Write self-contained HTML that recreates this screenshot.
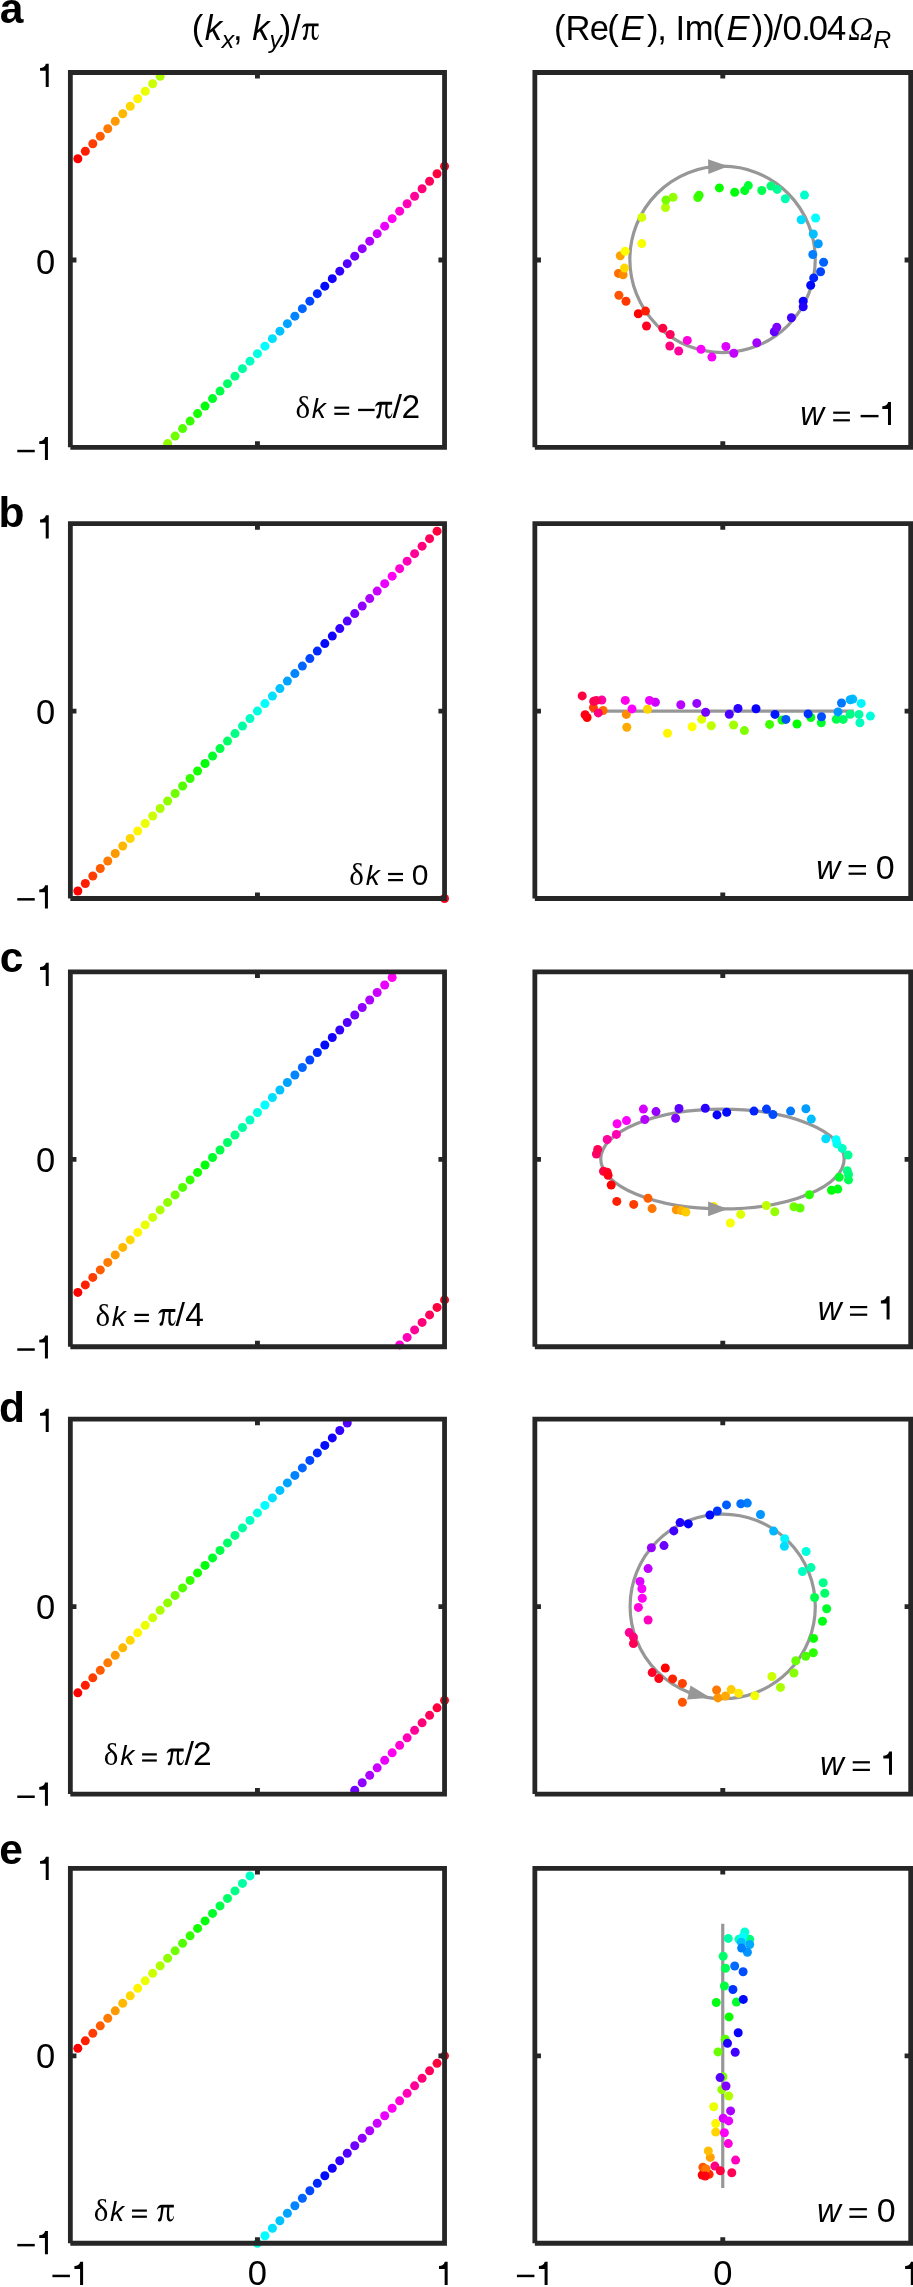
<!DOCTYPE html><html><head><meta charset="utf-8"><style>html,body{margin:0;padding:0;background:#fff;width:913px;height:2287px;overflow:hidden}svg{display:block;will-change:transform}text{fill:#000}</style></head><body>
<svg width="913" height="2287" viewBox="0 0 913 2287">
<text x="191.72" y="39.70" style="font-family:&quot;Liberation Sans&quot;,sans-serif;font-style:normal;font-weight:normal;font-size:34.6px">(</text>
<text x="204.69" y="39.70" style="font-family:&quot;Liberation Sans&quot;,sans-serif;font-style:italic;font-weight:normal;font-size:34.6px">k</text>
<text x="221.68" y="47.60" style="font-family:&quot;Liberation Sans&quot;,sans-serif;font-style:italic;font-weight:normal;font-size:24.8px">x</text>
<text x="232.89" y="39.70" style="font-family:&quot;Liberation Sans&quot;,sans-serif;font-style:normal;font-weight:normal;font-size:34.6px">,</text>
<text x="252.34" y="39.70" style="font-family:&quot;Liberation Sans&quot;,sans-serif;font-style:italic;font-weight:normal;font-size:34.6px">k</text>
<text x="269.38" y="47.60" style="font-family:&quot;Liberation Sans&quot;,sans-serif;font-style:italic;font-weight:normal;font-size:24.8px">y</text>
<text x="279.86" y="39.70" style="font-family:&quot;Liberation Sans&quot;,sans-serif;font-style:normal;font-weight:normal;font-size:34.6px">)</text>
<text x="291.04" y="39.70" style="font-family:&quot;Liberation Sans&quot;,sans-serif;font-style:normal;font-weight:normal;font-size:34.6px">/</text>
<path d="M318.60 23.40 L318.60 26.30 L314.20 26.30 C313.90 29.70 313.80 33.20 314.10 35.70 C314.40 37.50 315.40 38.10 316.30 37.90 C317.40 37.70 318.00 36.20 318.40 34.50 L318.80 34.70 C318.60 37.70 317.30 40.00 315.10 40.00 C312.80 40.00 311.80 37.90 311.70 35.20 C311.60 32.20 311.80 29.20 312.10 26.30 L308.50 26.30 C308.00 30.70 307.40 34.70 306.70 37.50 C306.50 38.90 305.80 40.00 304.60 40.00 C303.30 40.00 302.80 39.10 302.90 38.40 C303.10 37.40 304.30 36.50 305.00 35.20 C305.60 32.20 305.80 29.20 306.10 26.30 C304.30 26.50 302.80 27.20 302.10 28.40 L301.80 27.90 C302.60 25.50 304.30 23.40 306.80 23.40 Z" fill="#000"/>
<text x="554.02" y="39.70" style="font-family:&quot;Liberation Sans&quot;,sans-serif;font-style:normal;font-weight:normal;font-size:34.6px">(</text>
<text x="565.49" y="39.70" style="font-family:&quot;Liberation Sans&quot;,sans-serif;font-style:normal;font-weight:normal;font-size:34.6px">R</text>
<text x="589.66" y="39.70" style="font-family:&quot;Liberation Sans&quot;,sans-serif;font-style:normal;font-weight:normal;font-size:34.6px">e</text>
<text x="607.32" y="39.70" style="font-family:&quot;Liberation Sans&quot;,sans-serif;font-style:normal;font-weight:normal;font-size:34.6px">(</text>
<text x="620.57" y="39.70" style="font-family:&quot;Liberation Sans&quot;,sans-serif;font-style:italic;font-weight:normal;font-size:34.6px">E</text>
<text x="647.06" y="39.70" style="font-family:&quot;Liberation Sans&quot;,sans-serif;font-style:normal;font-weight:normal;font-size:34.6px">)</text>
<text x="657.24" y="39.70" style="font-family:&quot;Liberation Sans&quot;,sans-serif;font-style:normal;font-weight:normal;font-size:34.6px">,</text>
<text x="675.59" y="39.70" style="font-family:&quot;Liberation Sans&quot;,sans-serif;font-style:normal;font-weight:normal;font-size:34.6px">I</text>
<text x="684.68" y="39.70" style="font-family:&quot;Liberation Sans&quot;,sans-serif;font-style:normal;font-weight:normal;font-size:34.6px">m</text>
<text x="712.42" y="39.70" style="font-family:&quot;Liberation Sans&quot;,sans-serif;font-style:normal;font-weight:normal;font-size:34.6px">(</text>
<text x="726.62" y="39.70" style="font-family:&quot;Liberation Sans&quot;,sans-serif;font-style:italic;font-weight:normal;font-size:34.6px">E</text>
<text x="751.86" y="39.70" style="font-family:&quot;Liberation Sans&quot;,sans-serif;font-style:normal;font-weight:normal;font-size:34.6px">)</text>
<text x="763.31" y="39.70" style="font-family:&quot;Liberation Sans&quot;,sans-serif;font-style:normal;font-weight:normal;font-size:34.6px">)</text>
<text x="772.99" y="39.70" style="font-family:&quot;Liberation Sans&quot;,sans-serif;font-style:normal;font-weight:normal;font-size:34.6px">/</text>
<text x="782.43" y="39.70" style="font-family:&quot;Liberation Sans&quot;,sans-serif;font-style:normal;font-weight:normal;font-size:34.6px">0</text>
<text x="801.14" y="39.70" style="font-family:&quot;Liberation Sans&quot;,sans-serif;font-style:normal;font-weight:normal;font-size:34.6px">.</text>
<text x="808.78" y="39.70" style="font-family:&quot;Liberation Sans&quot;,sans-serif;font-style:normal;font-weight:normal;font-size:34.6px">0</text>
<text x="827.04" y="39.70" style="font-family:&quot;Liberation Sans&quot;,sans-serif;font-style:normal;font-weight:normal;font-size:34.6px">4</text>
<text x="848.14" y="39.70" style="font-family:&quot;Liberation Serif&quot;,serif;font-style:italic;font-weight:normal;font-size:34.6px">Ω</text>
<text x="873.15" y="47.60" style="font-family:&quot;Liberation Sans&quot;,sans-serif;font-style:italic;font-weight:normal;font-size:24.8px">R</text>
<text x="-0.25" y="22.90" style="font-family:&quot;Liberation Sans&quot;,sans-serif;font-style:normal;font-weight:bold;font-size:42.5px">a</text>
<text x="-1.50" y="526.90" style="font-family:&quot;Liberation Sans&quot;,sans-serif;font-style:normal;font-weight:bold;font-size:42.5px">b</text>
<text x="-0.16" y="971.80" style="font-family:&quot;Liberation Sans&quot;,sans-serif;font-style:normal;font-weight:bold;font-size:42.5px">c</text>
<text x="-1.04" y="1422.30" style="font-family:&quot;Liberation Sans&quot;,sans-serif;font-style:normal;font-weight:bold;font-size:42.5px">d</text>
<text x="-0.66" y="1863.80" style="font-family:&quot;Liberation Sans&quot;,sans-serif;font-style:normal;font-weight:bold;font-size:42.5px">e</text>
<path d="M48.73 86.90 L45.72 86.90 L45.72 70.80 L40.05 70.80 L40.05 68.02 C42.95 67.79 45.10 66.90 45.92 63.70 L48.73 63.70 Z" fill="#000"/>
<text x="36.11" y="273.80" style="font-family:&quot;Liberation Sans&quot;,sans-serif;font-style:normal;font-weight:normal;font-size:34.5px">0</text>
<rect x="17.27" y="449.80" width="17.49" height="2.48" fill="#000"/><path d="M47.93 460.10 L44.92 460.10 L44.92 444.00 L39.25 444.00 L39.25 441.22 C42.15 440.99 44.30 440.10 45.12 436.90 L47.93 436.90 Z" fill="#000"/>
<path d="M48.73 538.50 L45.72 538.50 L45.72 522.40 L40.05 522.40 L40.05 519.62 C42.95 519.39 45.10 518.50 45.92 515.30 L48.73 515.30 Z" fill="#000"/>
<text x="36.11" y="723.60" style="font-family:&quot;Liberation Sans&quot;,sans-serif;font-style:normal;font-weight:normal;font-size:34.5px">0</text>
<rect x="17.27" y="898.10" width="17.49" height="2.48" fill="#000"/><path d="M47.93 908.40 L44.92 908.40 L44.92 892.30 L39.25 892.30 L39.25 889.52 C42.15 889.29 44.30 888.40 45.12 885.20 L47.93 885.20 Z" fill="#000"/>
<path d="M48.73 986.00 L45.72 986.00 L45.72 969.90 L40.05 969.90 L40.05 967.12 C42.95 966.89 45.10 966.00 45.92 962.80 L48.73 962.80 Z" fill="#000"/>
<text x="36.11" y="1172.20" style="font-family:&quot;Liberation Sans&quot;,sans-serif;font-style:normal;font-weight:normal;font-size:34.5px">0</text>
<rect x="17.27" y="1348.30" width="17.49" height="2.48" fill="#000"/><path d="M47.93 1358.60 L44.92 1358.60 L44.92 1342.50 L39.25 1342.50 L39.25 1339.72 C42.15 1339.49 44.30 1338.60 45.12 1335.40 L47.93 1335.40 Z" fill="#000"/>
<path d="M48.73 1431.90 L45.72 1431.90 L45.72 1415.80 L40.05 1415.80 L40.05 1413.02 C42.95 1412.79 45.10 1411.90 45.92 1408.70 L48.73 1408.70 Z" fill="#000"/>
<text x="36.11" y="1618.90" style="font-family:&quot;Liberation Sans&quot;,sans-serif;font-style:normal;font-weight:normal;font-size:34.5px">0</text>
<rect x="17.27" y="1795.50" width="17.49" height="2.48" fill="#000"/><path d="M47.93 1805.80 L44.92 1805.80 L44.92 1789.70 L39.25 1789.70 L39.25 1786.92 C42.15 1786.69 44.30 1785.80 45.12 1782.60 L47.93 1782.60 Z" fill="#000"/>
<path d="M48.73 1879.90 L45.72 1879.90 L45.72 1863.80 L40.05 1863.80 L40.05 1861.02 C42.95 1860.79 45.10 1859.90 45.92 1856.70 L48.73 1856.70 Z" fill="#000"/>
<text x="36.11" y="2067.60" style="font-family:&quot;Liberation Sans&quot;,sans-serif;font-style:normal;font-weight:normal;font-size:34.5px">0</text>
<rect x="17.27" y="2243.90" width="17.49" height="2.48" fill="#000"/><path d="M47.93 2254.20 L44.92 2254.20 L44.92 2238.10 L39.25 2238.10 L39.25 2235.32 C42.15 2235.09 44.30 2234.20 45.12 2231.00 L47.93 2231.00 Z" fill="#000"/>
<rect x="52.43" y="2274.70" width="17.49" height="2.48" fill="#000"/><path d="M83.09 2285.00 L80.08 2285.00 L80.08 2268.90 L74.41 2268.90 L74.41 2266.12 C77.31 2265.89 79.46 2265.00 80.28 2261.80 L83.09 2261.80 Z" fill="#000"/>
<text x="247.86" y="2285.00" style="font-family:&quot;Liberation Sans&quot;,sans-serif;font-style:normal;font-weight:normal;font-size:34.5px">0</text>
<path d="M447.65 2285.00 L444.65 2285.00 L444.65 2268.90 L438.97 2268.90 L438.97 2266.12 C441.88 2265.89 444.02 2265.00 444.85 2261.80 L447.65 2261.80 Z" fill="#000"/>
<rect x="516.93" y="2274.70" width="17.49" height="2.48" fill="#000"/><path d="M547.59 2285.00 L544.59 2285.00 L544.59 2268.90 L538.91 2268.90 L538.91 2266.12 C541.81 2265.89 543.96 2265.00 544.78 2261.80 L547.59 2261.80 Z" fill="#000"/>
<text x="713.18" y="2285.00" style="font-family:&quot;Liberation Sans&quot;,sans-serif;font-style:normal;font-weight:normal;font-size:34.5px">0</text>
<path d="M913.80 2285.00 L910.80 2285.00 L910.80 2268.90 L905.12 2268.90 L905.12 2266.12 C908.03 2265.89 910.17 2265.00 911.00 2261.80 L913.80 2261.80 Z" fill="#000"/>
<circle cx="77.83" cy="158.72" r="4.5" fill="#ff0000"/>
<circle cx="85.32" cy="151.22" r="4.5" fill="#ff1f00"/>
<circle cx="92.80" cy="143.72" r="4.5" fill="#ff3d00"/>
<circle cx="100.29" cy="136.22" r="4.5" fill="#ff5c00"/>
<circle cx="107.77" cy="128.73" r="4.5" fill="#ff7a00"/>
<circle cx="115.25" cy="121.23" r="4.5" fill="#ff9900"/>
<circle cx="122.74" cy="113.73" r="4.5" fill="#ffb800"/>
<circle cx="130.22" cy="106.24" r="4.5" fill="#ffd600"/>
<circle cx="137.71" cy="98.74" r="4.5" fill="#fff500"/>
<circle cx="145.19" cy="91.24" r="4.5" fill="#ebff00"/>
<circle cx="152.67" cy="83.75" r="4.5" fill="#ccff00"/>
<circle cx="160.16" cy="76.25" r="4.5" fill="#adff00"/>
<circle cx="167.64" cy="443.60" r="4.5" fill="#8fff00"/>
<circle cx="175.13" cy="436.10" r="4.5" fill="#70ff00"/>
<circle cx="182.61" cy="428.61" r="4.5" fill="#52ff00"/>
<circle cx="190.09" cy="421.11" r="4.5" fill="#33ff00"/>
<circle cx="197.58" cy="413.61" r="4.5" fill="#14ff00"/>
<circle cx="205.06" cy="406.12" r="4.5" fill="#00ff0a"/>
<circle cx="212.55" cy="398.62" r="4.5" fill="#00ff29"/>
<circle cx="220.03" cy="391.12" r="4.5" fill="#00ff47"/>
<circle cx="227.51" cy="383.63" r="4.5" fill="#00ff66"/>
<circle cx="235.00" cy="376.13" r="4.5" fill="#00ff85"/>
<circle cx="242.48" cy="368.63" r="4.5" fill="#00ffa3"/>
<circle cx="249.97" cy="361.13" r="4.5" fill="#00ffc2"/>
<circle cx="257.45" cy="353.64" r="4.5" fill="#00ffe0"/>
<circle cx="264.93" cy="346.14" r="4.5" fill="#00ffff"/>
<circle cx="272.42" cy="338.64" r="4.5" fill="#00e0ff"/>
<circle cx="279.90" cy="331.15" r="4.5" fill="#00c2ff"/>
<circle cx="287.39" cy="323.65" r="4.5" fill="#00a3ff"/>
<circle cx="294.87" cy="316.15" r="4.5" fill="#0085ff"/>
<circle cx="302.35" cy="308.66" r="4.5" fill="#0066ff"/>
<circle cx="309.84" cy="301.16" r="4.5" fill="#0047ff"/>
<circle cx="317.32" cy="293.66" r="4.5" fill="#0029ff"/>
<circle cx="324.81" cy="286.16" r="4.5" fill="#000aff"/>
<circle cx="332.29" cy="278.67" r="4.5" fill="#1400ff"/>
<circle cx="339.77" cy="271.17" r="4.5" fill="#3300ff"/>
<circle cx="347.26" cy="263.67" r="4.5" fill="#5200ff"/>
<circle cx="354.74" cy="256.18" r="4.5" fill="#7000ff"/>
<circle cx="362.23" cy="248.68" r="4.5" fill="#8f00ff"/>
<circle cx="369.71" cy="241.18" r="4.5" fill="#ad00ff"/>
<circle cx="377.19" cy="233.69" r="4.5" fill="#cc00ff"/>
<circle cx="384.68" cy="226.19" r="4.5" fill="#eb00ff"/>
<circle cx="392.16" cy="218.69" r="4.5" fill="#ff00f5"/>
<circle cx="399.65" cy="211.19" r="4.5" fill="#ff00d6"/>
<circle cx="407.13" cy="203.70" r="4.5" fill="#ff00b8"/>
<circle cx="414.61" cy="196.20" r="4.5" fill="#ff0099"/>
<circle cx="422.10" cy="188.70" r="4.5" fill="#ff007a"/>
<circle cx="429.58" cy="181.21" r="4.5" fill="#ff005c"/>
<circle cx="437.07" cy="173.71" r="4.5" fill="#ff003d"/>
<circle cx="444.55" cy="166.21" r="4.5" fill="#ff001f"/>
<circle cx="77.83" cy="891.00" r="4.5" fill="#ff0000"/>
<circle cx="85.32" cy="883.51" r="4.5" fill="#ff1f00"/>
<circle cx="92.80" cy="876.01" r="4.5" fill="#ff3d00"/>
<circle cx="100.29" cy="868.51" r="4.5" fill="#ff5c00"/>
<circle cx="107.77" cy="861.01" r="4.5" fill="#ff7a00"/>
<circle cx="115.25" cy="853.52" r="4.5" fill="#ff9900"/>
<circle cx="122.74" cy="846.02" r="4.5" fill="#ffb800"/>
<circle cx="130.22" cy="838.52" r="4.5" fill="#ffd600"/>
<circle cx="137.71" cy="831.03" r="4.5" fill="#fff500"/>
<circle cx="145.19" cy="823.53" r="4.5" fill="#ebff00"/>
<circle cx="152.67" cy="816.03" r="4.5" fill="#ccff00"/>
<circle cx="160.16" cy="808.54" r="4.5" fill="#adff00"/>
<circle cx="167.64" cy="801.04" r="4.5" fill="#8fff00"/>
<circle cx="175.13" cy="793.54" r="4.5" fill="#70ff00"/>
<circle cx="182.61" cy="786.04" r="4.5" fill="#52ff00"/>
<circle cx="190.09" cy="778.55" r="4.5" fill="#33ff00"/>
<circle cx="197.58" cy="771.05" r="4.5" fill="#14ff00"/>
<circle cx="205.06" cy="763.55" r="4.5" fill="#00ff0a"/>
<circle cx="212.55" cy="756.06" r="4.5" fill="#00ff29"/>
<circle cx="220.03" cy="748.56" r="4.5" fill="#00ff47"/>
<circle cx="227.51" cy="741.06" r="4.5" fill="#00ff66"/>
<circle cx="235.00" cy="733.57" r="4.5" fill="#00ff85"/>
<circle cx="242.48" cy="726.07" r="4.5" fill="#00ffa3"/>
<circle cx="249.97" cy="718.57" r="4.5" fill="#00ffc2"/>
<circle cx="257.45" cy="711.08" r="4.5" fill="#00ffe0"/>
<circle cx="264.93" cy="703.58" r="4.5" fill="#00ffff"/>
<circle cx="272.42" cy="696.08" r="4.5" fill="#00e0ff"/>
<circle cx="279.90" cy="688.58" r="4.5" fill="#00c2ff"/>
<circle cx="287.39" cy="681.09" r="4.5" fill="#00a3ff"/>
<circle cx="294.87" cy="673.59" r="4.5" fill="#0085ff"/>
<circle cx="302.35" cy="666.09" r="4.5" fill="#0066ff"/>
<circle cx="309.84" cy="658.60" r="4.5" fill="#0047ff"/>
<circle cx="317.32" cy="651.10" r="4.5" fill="#0029ff"/>
<circle cx="324.81" cy="643.60" r="4.5" fill="#000aff"/>
<circle cx="332.29" cy="636.11" r="4.5" fill="#1400ff"/>
<circle cx="339.77" cy="628.61" r="4.5" fill="#3300ff"/>
<circle cx="347.26" cy="621.11" r="4.5" fill="#5200ff"/>
<circle cx="354.74" cy="613.61" r="4.5" fill="#7000ff"/>
<circle cx="362.23" cy="606.12" r="4.5" fill="#8f00ff"/>
<circle cx="369.71" cy="598.62" r="4.5" fill="#ad00ff"/>
<circle cx="377.19" cy="591.12" r="4.5" fill="#cc00ff"/>
<circle cx="384.68" cy="583.63" r="4.5" fill="#eb00ff"/>
<circle cx="392.16" cy="576.13" r="4.5" fill="#ff00f5"/>
<circle cx="399.65" cy="568.63" r="4.5" fill="#ff00d6"/>
<circle cx="407.13" cy="561.13" r="4.5" fill="#ff00b8"/>
<circle cx="414.61" cy="553.64" r="4.5" fill="#ff0099"/>
<circle cx="422.10" cy="546.14" r="4.5" fill="#ff007a"/>
<circle cx="429.58" cy="538.64" r="4.5" fill="#ff005c"/>
<circle cx="437.07" cy="531.15" r="4.5" fill="#ff003d"/>
<circle cx="444.55" cy="898.50" r="4.5" fill="#ff001f"/>
<circle cx="77.83" cy="1292.40" r="4.5" fill="#ff0000"/>
<circle cx="85.32" cy="1284.90" r="4.5" fill="#ff1f00"/>
<circle cx="92.80" cy="1277.40" r="4.5" fill="#ff3d00"/>
<circle cx="100.29" cy="1269.91" r="4.5" fill="#ff5c00"/>
<circle cx="107.77" cy="1262.41" r="4.5" fill="#ff7a00"/>
<circle cx="115.25" cy="1254.91" r="4.5" fill="#ff9900"/>
<circle cx="122.74" cy="1247.41" r="4.5" fill="#ffb800"/>
<circle cx="130.22" cy="1239.92" r="4.5" fill="#ffd600"/>
<circle cx="137.71" cy="1232.42" r="4.5" fill="#fff500"/>
<circle cx="145.19" cy="1224.92" r="4.5" fill="#ebff00"/>
<circle cx="152.67" cy="1217.43" r="4.5" fill="#ccff00"/>
<circle cx="160.16" cy="1209.93" r="4.5" fill="#adff00"/>
<circle cx="167.64" cy="1202.43" r="4.5" fill="#8fff00"/>
<circle cx="175.13" cy="1194.94" r="4.5" fill="#70ff00"/>
<circle cx="182.61" cy="1187.44" r="4.5" fill="#52ff00"/>
<circle cx="190.09" cy="1179.94" r="4.5" fill="#33ff00"/>
<circle cx="197.58" cy="1172.44" r="4.5" fill="#14ff00"/>
<circle cx="205.06" cy="1164.95" r="4.5" fill="#00ff0a"/>
<circle cx="212.55" cy="1157.45" r="4.5" fill="#00ff29"/>
<circle cx="220.03" cy="1149.95" r="4.5" fill="#00ff47"/>
<circle cx="227.51" cy="1142.46" r="4.5" fill="#00ff66"/>
<circle cx="235.00" cy="1134.96" r="4.5" fill="#00ff85"/>
<circle cx="242.48" cy="1127.46" r="4.5" fill="#00ffa3"/>
<circle cx="249.97" cy="1119.97" r="4.5" fill="#00ffc2"/>
<circle cx="257.45" cy="1112.47" r="4.5" fill="#00ffe0"/>
<circle cx="264.93" cy="1104.97" r="4.5" fill="#00ffff"/>
<circle cx="272.42" cy="1097.47" r="4.5" fill="#00e0ff"/>
<circle cx="279.90" cy="1089.98" r="4.5" fill="#00c2ff"/>
<circle cx="287.39" cy="1082.48" r="4.5" fill="#00a3ff"/>
<circle cx="294.87" cy="1074.98" r="4.5" fill="#0085ff"/>
<circle cx="302.35" cy="1067.49" r="4.5" fill="#0066ff"/>
<circle cx="309.84" cy="1059.99" r="4.5" fill="#0047ff"/>
<circle cx="317.32" cy="1052.49" r="4.5" fill="#0029ff"/>
<circle cx="324.81" cy="1045.00" r="4.5" fill="#000aff"/>
<circle cx="332.29" cy="1037.50" r="4.5" fill="#1400ff"/>
<circle cx="339.77" cy="1030.00" r="4.5" fill="#3300ff"/>
<circle cx="347.26" cy="1022.50" r="4.5" fill="#5200ff"/>
<circle cx="354.74" cy="1015.01" r="4.5" fill="#7000ff"/>
<circle cx="362.23" cy="1007.51" r="4.5" fill="#8f00ff"/>
<circle cx="369.71" cy="1000.01" r="4.5" fill="#ad00ff"/>
<circle cx="377.19" cy="992.52" r="4.5" fill="#cc00ff"/>
<circle cx="384.68" cy="985.02" r="4.5" fill="#eb00ff"/>
<circle cx="392.16" cy="977.52" r="4.5" fill="#ff00f5"/>
<circle cx="399.65" cy="1344.88" r="4.5" fill="#ff00d6"/>
<circle cx="407.13" cy="1337.38" r="4.5" fill="#ff00b8"/>
<circle cx="414.61" cy="1329.88" r="4.5" fill="#ff0099"/>
<circle cx="422.10" cy="1322.38" r="4.5" fill="#ff007a"/>
<circle cx="429.58" cy="1314.89" r="4.5" fill="#ff005c"/>
<circle cx="437.07" cy="1307.39" r="4.5" fill="#ff003d"/>
<circle cx="444.55" cy="1299.89" r="4.5" fill="#ff001f"/>
<circle cx="77.83" cy="1692.84" r="4.5" fill="#ff0000"/>
<circle cx="85.32" cy="1685.34" r="4.5" fill="#ff1f00"/>
<circle cx="92.80" cy="1677.85" r="4.5" fill="#ff3d00"/>
<circle cx="100.29" cy="1670.35" r="4.5" fill="#ff5c00"/>
<circle cx="107.77" cy="1662.85" r="4.5" fill="#ff7a00"/>
<circle cx="115.25" cy="1655.36" r="4.5" fill="#ff9900"/>
<circle cx="122.74" cy="1647.86" r="4.5" fill="#ffb800"/>
<circle cx="130.22" cy="1640.36" r="4.5" fill="#ffd600"/>
<circle cx="137.71" cy="1632.86" r="4.5" fill="#fff500"/>
<circle cx="145.19" cy="1625.37" r="4.5" fill="#ebff00"/>
<circle cx="152.67" cy="1617.87" r="4.5" fill="#ccff00"/>
<circle cx="160.16" cy="1610.37" r="4.5" fill="#adff00"/>
<circle cx="167.64" cy="1602.88" r="4.5" fill="#8fff00"/>
<circle cx="175.13" cy="1595.38" r="4.5" fill="#70ff00"/>
<circle cx="182.61" cy="1587.88" r="4.5" fill="#52ff00"/>
<circle cx="190.09" cy="1580.39" r="4.5" fill="#33ff00"/>
<circle cx="197.58" cy="1572.89" r="4.5" fill="#14ff00"/>
<circle cx="205.06" cy="1565.39" r="4.5" fill="#00ff0a"/>
<circle cx="212.55" cy="1557.89" r="4.5" fill="#00ff29"/>
<circle cx="220.03" cy="1550.40" r="4.5" fill="#00ff47"/>
<circle cx="227.51" cy="1542.90" r="4.5" fill="#00ff66"/>
<circle cx="235.00" cy="1535.40" r="4.5" fill="#00ff85"/>
<circle cx="242.48" cy="1527.91" r="4.5" fill="#00ffa3"/>
<circle cx="249.97" cy="1520.41" r="4.5" fill="#00ffc2"/>
<circle cx="257.45" cy="1512.91" r="4.5" fill="#00ffe0"/>
<circle cx="264.93" cy="1505.42" r="4.5" fill="#00ffff"/>
<circle cx="272.42" cy="1497.92" r="4.5" fill="#00e0ff"/>
<circle cx="279.90" cy="1490.42" r="4.5" fill="#00c2ff"/>
<circle cx="287.39" cy="1482.92" r="4.5" fill="#00a3ff"/>
<circle cx="294.87" cy="1475.43" r="4.5" fill="#0085ff"/>
<circle cx="302.35" cy="1467.93" r="4.5" fill="#0066ff"/>
<circle cx="309.84" cy="1460.43" r="4.5" fill="#0047ff"/>
<circle cx="317.32" cy="1452.94" r="4.5" fill="#0029ff"/>
<circle cx="324.81" cy="1445.44" r="4.5" fill="#000aff"/>
<circle cx="332.29" cy="1437.94" r="4.5" fill="#1400ff"/>
<circle cx="339.77" cy="1430.45" r="4.5" fill="#3300ff"/>
<circle cx="347.26" cy="1422.95" r="4.5" fill="#5200ff"/>
<circle cx="354.74" cy="1790.30" r="4.5" fill="#7000ff"/>
<circle cx="362.23" cy="1782.80" r="4.5" fill="#8f00ff"/>
<circle cx="369.71" cy="1775.31" r="4.5" fill="#ad00ff"/>
<circle cx="377.19" cy="1767.81" r="4.5" fill="#cc00ff"/>
<circle cx="384.68" cy="1760.31" r="4.5" fill="#eb00ff"/>
<circle cx="392.16" cy="1752.82" r="4.5" fill="#ff00f5"/>
<circle cx="399.65" cy="1745.32" r="4.5" fill="#ff00d6"/>
<circle cx="407.13" cy="1737.82" r="4.5" fill="#ff00b8"/>
<circle cx="414.61" cy="1730.33" r="4.5" fill="#ff0099"/>
<circle cx="422.10" cy="1722.83" r="4.5" fill="#ff007a"/>
<circle cx="429.58" cy="1715.33" r="4.5" fill="#ff005c"/>
<circle cx="437.07" cy="1707.83" r="4.5" fill="#ff003d"/>
<circle cx="444.55" cy="1700.34" r="4.5" fill="#ff001f"/>
<circle cx="77.83" cy="2048.33" r="4.5" fill="#ff0000"/>
<circle cx="85.32" cy="2040.83" r="4.5" fill="#ff1f00"/>
<circle cx="92.80" cy="2033.33" r="4.5" fill="#ff3d00"/>
<circle cx="100.29" cy="2025.84" r="4.5" fill="#ff5c00"/>
<circle cx="107.77" cy="2018.34" r="4.5" fill="#ff7a00"/>
<circle cx="115.25" cy="2010.84" r="4.5" fill="#ff9900"/>
<circle cx="122.74" cy="2003.35" r="4.5" fill="#ffb800"/>
<circle cx="130.22" cy="1995.85" r="4.5" fill="#ffd600"/>
<circle cx="137.71" cy="1988.35" r="4.5" fill="#fff500"/>
<circle cx="145.19" cy="1980.86" r="4.5" fill="#ebff00"/>
<circle cx="152.67" cy="1973.36" r="4.5" fill="#ccff00"/>
<circle cx="160.16" cy="1965.86" r="4.5" fill="#adff00"/>
<circle cx="167.64" cy="1958.36" r="4.5" fill="#8fff00"/>
<circle cx="175.13" cy="1950.87" r="4.5" fill="#70ff00"/>
<circle cx="182.61" cy="1943.37" r="4.5" fill="#52ff00"/>
<circle cx="190.09" cy="1935.87" r="4.5" fill="#33ff00"/>
<circle cx="197.58" cy="1928.38" r="4.5" fill="#14ff00"/>
<circle cx="205.06" cy="1920.88" r="4.5" fill="#00ff0a"/>
<circle cx="212.55" cy="1913.38" r="4.5" fill="#00ff29"/>
<circle cx="220.03" cy="1905.88" r="4.5" fill="#00ff47"/>
<circle cx="227.51" cy="1898.39" r="4.5" fill="#00ff66"/>
<circle cx="235.00" cy="1890.89" r="4.5" fill="#00ff85"/>
<circle cx="242.48" cy="1883.39" r="4.5" fill="#00ffa3"/>
<circle cx="249.97" cy="1875.90" r="4.5" fill="#00ffc2"/>
<circle cx="257.45" cy="2243.25" r="4.5" fill="#00ffe0"/>
<circle cx="264.93" cy="2235.75" r="4.5" fill="#00ffff"/>
<circle cx="272.42" cy="2228.26" r="4.5" fill="#00e0ff"/>
<circle cx="279.90" cy="2220.76" r="4.5" fill="#00c2ff"/>
<circle cx="287.39" cy="2213.26" r="4.5" fill="#00a3ff"/>
<circle cx="294.87" cy="2205.77" r="4.5" fill="#0085ff"/>
<circle cx="302.35" cy="2198.27" r="4.5" fill="#0066ff"/>
<circle cx="309.84" cy="2190.77" r="4.5" fill="#0047ff"/>
<circle cx="317.32" cy="2183.27" r="4.5" fill="#0029ff"/>
<circle cx="324.81" cy="2175.78" r="4.5" fill="#000aff"/>
<circle cx="332.29" cy="2168.28" r="4.5" fill="#1400ff"/>
<circle cx="339.77" cy="2160.78" r="4.5" fill="#3300ff"/>
<circle cx="347.26" cy="2153.29" r="4.5" fill="#5200ff"/>
<circle cx="354.74" cy="2145.79" r="4.5" fill="#7000ff"/>
<circle cx="362.23" cy="2138.29" r="4.5" fill="#8f00ff"/>
<circle cx="369.71" cy="2130.80" r="4.5" fill="#ad00ff"/>
<circle cx="377.19" cy="2123.30" r="4.5" fill="#cc00ff"/>
<circle cx="384.68" cy="2115.80" r="4.5" fill="#eb00ff"/>
<circle cx="392.16" cy="2108.30" r="4.5" fill="#ff00f5"/>
<circle cx="399.65" cy="2100.81" r="4.5" fill="#ff00d6"/>
<circle cx="407.13" cy="2093.31" r="4.5" fill="#ff00b8"/>
<circle cx="414.61" cy="2085.81" r="4.5" fill="#ff0099"/>
<circle cx="422.10" cy="2078.32" r="4.5" fill="#ff007a"/>
<circle cx="429.58" cy="2070.82" r="4.5" fill="#ff005c"/>
<circle cx="437.07" cy="2063.32" r="4.5" fill="#ff003d"/>
<circle cx="444.55" cy="2055.83" r="4.5" fill="#ff001f"/>
<ellipse cx="722.55" cy="259.4" rx="92.7" ry="93.2" fill="none" stroke="#979797" stroke-width="3.2"/>
<line x1="591" y1="711.1" x2="853.7" y2="711.1" stroke="#979797" stroke-width="3.2"/>
<ellipse cx="722.45" cy="1159.0" rx="121.7" ry="49.9" fill="none" stroke="#979797" stroke-width="3.2"/>
<ellipse cx="722.7" cy="1606.4" rx="92.6" ry="92.3" fill="none" stroke="#979797" stroke-width="3.2"/>
<line x1="722.75" y1="1923.8" x2="722.75" y2="2188" stroke="#979797" stroke-width="3.2"/>
<circle cx="638.3" cy="313.7" r="4.5" fill="#ff0000"/>
<circle cx="645.5" cy="311.1" r="4.5" fill="#ff1e00"/>
<circle cx="626" cy="301.3" r="4.5" fill="#ff3700"/>
<circle cx="618.9" cy="295.3" r="4.5" fill="#ff5500"/>
<circle cx="618.5" cy="273.4" r="4.5" fill="#ff6e00"/>
<circle cx="623.1" cy="274.7" r="4.5" fill="#ff8c00"/>
<circle cx="620.3" cy="255.8" r="4.5" fill="#ffa200"/>
<circle cx="624.5" cy="268.1" r="4.5" fill="#ffd900"/>
<circle cx="625.1" cy="251.3" r="4.5" fill="#ffff00"/>
<circle cx="641.8" cy="243.6" r="4.5" fill="#f7ff00"/>
<circle cx="641.8" cy="217.4" r="4.5" fill="#d4ff00"/>
<circle cx="665.5" cy="207.6" r="4.5" fill="#b2ff00"/>
<circle cx="673.1" cy="197.2" r="4.5" fill="#95ff00"/>
<circle cx="665.9" cy="200.1" r="4.5" fill="#77ff00"/>
<circle cx="697.8" cy="197.5" r="4.5" fill="#40ff00"/>
<circle cx="699.1" cy="195.2" r="4.5" fill="#33ff00"/>
<circle cx="719.4" cy="187.9" r="4.5" fill="#08ff00"/>
<circle cx="734.7" cy="192.3" r="4.5" fill="#00ff08"/>
<circle cx="744.7" cy="190.6" r="4.5" fill="#00ff22"/>
<circle cx="748.3" cy="185.6" r="4.5" fill="#00ff33"/>
<circle cx="761.8" cy="190.5" r="4.5" fill="#00ff55"/>
<circle cx="771" cy="186" r="4.5" fill="#00ff77"/>
<circle cx="777.2" cy="189.4" r="4.5" fill="#00ff95"/>
<circle cx="785.3" cy="198.8" r="4.5" fill="#00ffb3"/>
<circle cx="804.5" cy="195.1" r="4.5" fill="#00ffcc"/>
<circle cx="815.6" cy="218" r="4.5" fill="#00ffff"/>
<circle cx="801.2" cy="219.8" r="4.5" fill="#00ddff"/>
<circle cx="813.3" cy="234" r="4.5" fill="#00bfff"/>
<circle cx="818.3" cy="243.7" r="4.5" fill="#009dff"/>
<circle cx="812.8" cy="254.5" r="4.5" fill="#0080ff"/>
<circle cx="823.6" cy="262.2" r="4.5" fill="#0062ff"/>
<circle cx="820.6" cy="271.7" r="4.5" fill="#0044ff"/>
<circle cx="813.7" cy="277.9" r="4.5" fill="#0026ff"/>
<circle cx="810.7" cy="285.2" r="4.5" fill="#0008ff"/>
<circle cx="803.2" cy="301.3" r="4.5" fill="#0d00ff"/>
<circle cx="803.2" cy="306.8" r="4.5" fill="#2200ff"/>
<circle cx="791.4" cy="317.7" r="4.5" fill="#4400ff"/>
<circle cx="774.3" cy="331.8" r="4.5" fill="#6200ff"/>
<circle cx="776.8" cy="327.3" r="4.5" fill="#8000ff"/>
<circle cx="756.8" cy="342.7" r="4.5" fill="#a200ff"/>
<circle cx="733.8" cy="353.2" r="4.5" fill="#c300ff"/>
<circle cx="725.9" cy="346.5" r="4.5" fill="#dd00ff"/>
<circle cx="711.9" cy="357.1" r="4.5" fill="#f700ff"/>
<circle cx="701" cy="349.2" r="4.5" fill="#ff00ff"/>
<circle cx="687.3" cy="340.4" r="4.5" fill="#ff00dd"/>
<circle cx="678.7" cy="351" r="4.5" fill="#ff009d"/>
<circle cx="669.8" cy="346" r="4.5" fill="#ff0080"/>
<circle cx="670.2" cy="334.5" r="4.5" fill="#ff005e"/>
<circle cx="662.8" cy="328.2" r="4.5" fill="#ff0040"/>
<circle cx="646.5" cy="326" r="4.5" fill="#ff0022"/>
<circle cx="587.1" cy="717.5" r="4.5" fill="#ff0000"/>
<circle cx="593.4" cy="707.6" r="4.5" fill="#ff4000"/>
<circle cx="603.1" cy="710.5" r="4.5" fill="#ff6a00"/>
<circle cx="626.3" cy="714.4" r="4.5" fill="#ff8c00"/>
<circle cx="626.8" cy="727.3" r="4.5" fill="#ffaa00"/>
<circle cx="647.5" cy="709.2" r="4.5" fill="#ffd400"/>
<circle cx="667.5" cy="733.2" r="4.5" fill="#fff700"/>
<circle cx="692.1" cy="726.7" r="4.5" fill="#ffff00"/>
<circle cx="701.7" cy="719.2" r="4.5" fill="#ddff00"/>
<circle cx="711.3" cy="725.7" r="4.5" fill="#bfff00"/>
<circle cx="733.6" cy="725" r="4.5" fill="#a2ff00"/>
<circle cx="744.4" cy="730.6" r="4.5" fill="#80ff00"/>
<circle cx="769.6" cy="724.4" r="4.5" fill="#40ff00"/>
<circle cx="781.9" cy="720.1" r="4.5" fill="#15ff00"/>
<circle cx="797" cy="724" r="4.5" fill="#00ff00"/>
<circle cx="810.8" cy="717.5" r="4.5" fill="#00ff15"/>
<circle cx="821.3" cy="722.7" r="4.5" fill="#00ff2a"/>
<circle cx="836.3" cy="719.2" r="4.5" fill="#00ff48"/>
<circle cx="843.2" cy="719.4" r="4.5" fill="#00ff62"/>
<circle cx="850.2" cy="714.2" r="4.5" fill="#00ff80"/>
<circle cx="859" cy="714.4" r="4.5" fill="#00ffa2"/>
<circle cx="859.9" cy="722.7" r="4.5" fill="#00ffbf"/>
<circle cx="870.4" cy="716.1" r="4.5" fill="#00ffdd"/>
<circle cx="861.2" cy="703.4" r="4.5" fill="#00f7ff"/>
<circle cx="852.8" cy="699.1" r="4.5" fill="#00bfff"/>
<circle cx="850.2" cy="699.7" r="4.5" fill="#00b2ff"/>
<circle cx="838" cy="711.9" r="4.5" fill="#0095ff"/>
<circle cx="841.5" cy="703" r="4.5" fill="#0077ff"/>
<circle cx="785.9" cy="719.4" r="4.5" fill="#0055ff"/>
<circle cx="821.5" cy="716.8" r="4.5" fill="#004cff"/>
<circle cx="808.1" cy="713.9" r="4.5" fill="#0033ff"/>
<circle cx="775" cy="714.4" r="4.5" fill="#0015ff"/>
<circle cx="756" cy="708.7" r="4.5" fill="#0800ff"/>
<circle cx="738" cy="708.4" r="4.5" fill="#2a00ff"/>
<circle cx="729.3" cy="714.2" r="4.5" fill="#4c00ff"/>
<circle cx="705.6" cy="712.2" r="4.5" fill="#7700ff"/>
<circle cx="696.8" cy="703.4" r="4.5" fill="#9500ff"/>
<circle cx="680.8" cy="704.7" r="4.5" fill="#b700ff"/>
<circle cx="655.4" cy="702.3" r="4.5" fill="#cc00ff"/>
<circle cx="649.5" cy="700.4" r="4.5" fill="#ea00ff"/>
<circle cx="632" cy="708.9" r="4.5" fill="#ff00ff"/>
<circle cx="625.3" cy="700.4" r="4.5" fill="#ff00ea"/>
<circle cx="601.8" cy="700" r="4.5" fill="#ff00a1"/>
<circle cx="598.3" cy="712.9" r="4.5" fill="#ff0080"/>
<circle cx="596.3" cy="700.4" r="4.5" fill="#ff005e"/>
<circle cx="593.7" cy="701.3" r="4.5" fill="#ff0055"/>
<circle cx="582.2" cy="695.9" r="4.5" fill="#ff0040"/>
<circle cx="585.1" cy="714.8" r="4.5" fill="#ff0015"/>
<circle cx="611.2" cy="1185" r="4.5" fill="#ff0000"/>
<circle cx="616.8" cy="1201.4" r="4.5" fill="#ff1e00"/>
<circle cx="633.7" cy="1204.4" r="4.5" fill="#ff3c00"/>
<circle cx="648" cy="1198.3" r="4.5" fill="#ff5e00"/>
<circle cx="652.1" cy="1208.6" r="4.5" fill="#ff7700"/>
<circle cx="676.3" cy="1209.8" r="4.5" fill="#ff9500"/>
<circle cx="681.3" cy="1210.6" r="4.5" fill="#ffb200"/>
<circle cx="685.9" cy="1212.1" r="4.5" fill="#ffcc00"/>
<circle cx="713.6" cy="1206.5" r="4.5" fill="#ffea00"/>
<circle cx="730.4" cy="1223" r="4.5" fill="#f7ff00"/>
<circle cx="740.7" cy="1214.4" r="4.5" fill="#ddff00"/>
<circle cx="766.3" cy="1205.5" r="4.5" fill="#bfff00"/>
<circle cx="774.8" cy="1211.8" r="4.5" fill="#95ff00"/>
<circle cx="793.9" cy="1206.7" r="4.5" fill="#73ff00"/>
<circle cx="800.1" cy="1208" r="4.5" fill="#62ff00"/>
<circle cx="809.4" cy="1194.8" r="4.5" fill="#2aff00"/>
<circle cx="831.5" cy="1190.2" r="4.5" fill="#00ff08"/>
<circle cx="837.8" cy="1189.1" r="4.5" fill="#00ff15"/>
<circle cx="839.2" cy="1177.3" r="4.5" fill="#00ff2a"/>
<circle cx="848.5" cy="1179.9" r="4.5" fill="#00ff55"/>
<circle cx="848.5" cy="1174.5" r="4.5" fill="#00ff6a"/>
<circle cx="847.3" cy="1170.7" r="4.5" fill="#00ff80"/>
<circle cx="848.1" cy="1155.1" r="4.5" fill="#00ff95"/>
<circle cx="842.2" cy="1148.4" r="4.5" fill="#00ffbf"/>
<circle cx="836.9" cy="1143.8" r="4.5" fill="#00ffea"/>
<circle cx="836.1" cy="1139.8" r="4.5" fill="#00ffff"/>
<circle cx="825.8" cy="1138.7" r="4.5" fill="#00ddff"/>
<circle cx="811.3" cy="1119.1" r="4.5" fill="#00bfff"/>
<circle cx="805.9" cy="1108.8" r="4.5" fill="#009dff"/>
<circle cx="790.6" cy="1111.1" r="4.5" fill="#0077ff"/>
<circle cx="772.9" cy="1114.5" r="4.5" fill="#004cff"/>
<circle cx="766.5" cy="1109.1" r="4.5" fill="#003cff"/>
<circle cx="754" cy="1111.1" r="4.5" fill="#0022ff"/>
<circle cx="726.7" cy="1112.2" r="4.5" fill="#0008ff"/>
<circle cx="717" cy="1114.9" r="4.5" fill="#0800ff"/>
<circle cx="705.3" cy="1108.3" r="4.5" fill="#2a00ff"/>
<circle cx="679" cy="1108.5" r="4.5" fill="#5d00ff"/>
<circle cx="675.6" cy="1118.3" r="4.5" fill="#8000ff"/>
<circle cx="656" cy="1111.6" r="4.5" fill="#9500ff"/>
<circle cx="644.8" cy="1119.5" r="4.5" fill="#b700ff"/>
<circle cx="643.4" cy="1109.1" r="4.5" fill="#d500ff"/>
<circle cx="626.5" cy="1120.6" r="4.5" fill="#ff00ff"/>
<circle cx="617.1" cy="1123.7" r="4.5" fill="#ff00f2"/>
<circle cx="616.4" cy="1134.4" r="4.5" fill="#ff00b3"/>
<circle cx="607.2" cy="1139.5" r="4.5" fill="#ff00a1"/>
<circle cx="596.4" cy="1154" r="4.5" fill="#ff006a"/>
<circle cx="597.7" cy="1149.4" r="4.5" fill="#ff0055"/>
<circle cx="603.5" cy="1171.2" r="4.5" fill="#ff0040"/>
<circle cx="607.2" cy="1172.2" r="4.5" fill="#ff002b"/>
<circle cx="608.1" cy="1175.3" r="4.5" fill="#ff0015"/>
<circle cx="665.3" cy="1668" r="4.5" fill="#ff0000"/>
<circle cx="672.6" cy="1678.9" r="4.5" fill="#ff2200"/>
<circle cx="682.4" cy="1683.5" r="4.5" fill="#ff4000"/>
<circle cx="682.4" cy="1702.3" r="4.5" fill="#ff5500"/>
<circle cx="716.6" cy="1690" r="4.5" fill="#ff7700"/>
<circle cx="717.9" cy="1697.9" r="4.5" fill="#ff9500"/>
<circle cx="725.5" cy="1696" r="4.5" fill="#ffaa00"/>
<circle cx="731.2" cy="1689.6" r="4.5" fill="#ffcc00"/>
<circle cx="738.7" cy="1693.3" r="4.5" fill="#ffea00"/>
<circle cx="754.8" cy="1695.7" r="4.5" fill="#f2ff00"/>
<circle cx="771.9" cy="1676.5" r="4.5" fill="#ccff00"/>
<circle cx="780.5" cy="1687.4" r="4.5" fill="#aaff00"/>
<circle cx="793.9" cy="1673" r="4.5" fill="#88ff00"/>
<circle cx="795.8" cy="1660.7" r="4.5" fill="#6aff00"/>
<circle cx="805.7" cy="1656.3" r="4.5" fill="#4dff00"/>
<circle cx="813.3" cy="1652.8" r="4.5" fill="#2aff00"/>
<circle cx="813.6" cy="1638.4" r="4.5" fill="#08ff00"/>
<circle cx="822.5" cy="1621.3" r="4.5" fill="#00ff15"/>
<circle cx="826.7" cy="1608.7" r="4.5" fill="#00ff2a"/>
<circle cx="814.6" cy="1597.5" r="4.5" fill="#00ff4d"/>
<circle cx="824.8" cy="1593.3" r="4.5" fill="#00ff6a"/>
<circle cx="823.2" cy="1582.8" r="4.5" fill="#00ff88"/>
<circle cx="811" cy="1567.6" r="4.5" fill="#00ffaa"/>
<circle cx="802.5" cy="1571.5" r="4.5" fill="#00ffc3"/>
<circle cx="806.1" cy="1551.5" r="4.5" fill="#00ffdd"/>
<circle cx="784.7" cy="1538.8" r="4.5" fill="#00f7ff"/>
<circle cx="784.4" cy="1546.3" r="4.5" fill="#00ddff"/>
<circle cx="773.6" cy="1531.1" r="4.5" fill="#00b7ff"/>
<circle cx="760.5" cy="1514.5" r="4.5" fill="#0095ff"/>
<circle cx="747.3" cy="1503.1" r="4.5" fill="#0080ff"/>
<circle cx="740.8" cy="1503.8" r="4.5" fill="#006fff"/>
<circle cx="726.5" cy="1504.9" r="4.5" fill="#005eff"/>
<circle cx="717.3" cy="1511" r="4.5" fill="#0033ff"/>
<circle cx="709.9" cy="1515" r="4.5" fill="#0008ff"/>
<circle cx="688.3" cy="1523.9" r="4.5" fill="#0800ff"/>
<circle cx="680.1" cy="1522.6" r="4.5" fill="#2200ff"/>
<circle cx="673.8" cy="1530.9" r="4.5" fill="#4000ff"/>
<circle cx="664" cy="1545.6" r="4.5" fill="#6a00ff"/>
<circle cx="651.4" cy="1547.8" r="4.5" fill="#9500ff"/>
<circle cx="648.1" cy="1568.6" r="4.5" fill="#bf00ff"/>
<circle cx="640" cy="1581.5" r="4.5" fill="#dd00ff"/>
<circle cx="641.9" cy="1588.7" r="4.5" fill="#f700ff"/>
<circle cx="642.3" cy="1598.2" r="4.5" fill="#ff00f7"/>
<circle cx="638.4" cy="1607.4" r="4.5" fill="#ff00dd"/>
<circle cx="648.1" cy="1620" r="4.5" fill="#ff00bf"/>
<circle cx="629.2" cy="1632.6" r="4.5" fill="#ff0095"/>
<circle cx="633.4" cy="1637.1" r="4.5" fill="#ff0077"/>
<circle cx="633.4" cy="1643.6" r="4.5" fill="#ff0055"/>
<circle cx="652.2" cy="1672.6" r="4.5" fill="#ff002b"/>
<circle cx="658.8" cy="1678.6" r="4.5" fill="#ff0015"/>
<circle cx="702.2" cy="2175" r="4.5" fill="#ff0000"/>
<circle cx="709.1" cy="2174.2" r="4.5" fill="#ff2a00"/>
<circle cx="702.9" cy="2167.3" r="4.5" fill="#ff5500"/>
<circle cx="706" cy="2168.9" r="4.5" fill="#ff7700"/>
<circle cx="710.3" cy="2157.4" r="4.5" fill="#ffa200"/>
<circle cx="708.3" cy="2150.9" r="4.5" fill="#ffbf00"/>
<circle cx="715.7" cy="2132.1" r="4.5" fill="#ffd400"/>
<circle cx="715.7" cy="2123.6" r="4.5" fill="#fff700"/>
<circle cx="713.7" cy="2106.7" r="4.5" fill="#eaff00"/>
<circle cx="728.7" cy="2096" r="4.5" fill="#b2ff00"/>
<circle cx="721.8" cy="2089.6" r="4.5" fill="#95ff00"/>
<circle cx="722.9" cy="2076.8" r="4.5" fill="#77ff00"/>
<circle cx="718" cy="2051.9" r="4.5" fill="#6aff00"/>
<circle cx="725.2" cy="2039.3" r="4.5" fill="#55ff00"/>
<circle cx="729" cy="2016.9" r="4.5" fill="#08ff00"/>
<circle cx="716.3" cy="2002.5" r="4.5" fill="#00ff15"/>
<circle cx="736.4" cy="2002.1" r="4.5" fill="#00ff2a"/>
<circle cx="724.4" cy="1986" r="4.5" fill="#00ff40"/>
<circle cx="725.5" cy="1968.3" r="4.5" fill="#00ff55"/>
<circle cx="723.2" cy="1956.3" r="4.5" fill="#00ff6a"/>
<circle cx="749.7" cy="1939.2" r="4.5" fill="#00ff80"/>
<circle cx="728.3" cy="1938.4" r="4.5" fill="#00ffaa"/>
<circle cx="739" cy="1939.2" r="4.5" fill="#00ffbf"/>
<circle cx="744.8" cy="1932" r="4.5" fill="#00ffd4"/>
<circle cx="742.8" cy="1936.9" r="4.5" fill="#00ffff"/>
<circle cx="741.3" cy="1942.2" r="4.5" fill="#00bfff"/>
<circle cx="749.7" cy="1944.5" r="4.5" fill="#00aaff"/>
<circle cx="747.4" cy="1952.2" r="4.5" fill="#0095ff"/>
<circle cx="741.6" cy="1948.1" r="4.5" fill="#0080ff"/>
<circle cx="734.7" cy="1966" r="4.5" fill="#006aff"/>
<circle cx="743.1" cy="1971.8" r="4.5" fill="#004cff"/>
<circle cx="732.9" cy="1989.5" r="4.5" fill="#0033ff"/>
<circle cx="743.3" cy="1999.4" r="4.5" fill="#0008ff"/>
<circle cx="738.2" cy="2032.7" r="4.5" fill="#0800ff"/>
<circle cx="727.5" cy="2043.2" r="4.5" fill="#2200ff"/>
<circle cx="735.2" cy="2052.2" r="4.5" fill="#4000ff"/>
<circle cx="720.1" cy="2077.6" r="4.5" fill="#5500ff"/>
<circle cx="726" cy="2086" r="4.5" fill="#8000ff"/>
<circle cx="730.6" cy="2110.9" r="4.5" fill="#aa00ff"/>
<circle cx="723.2" cy="2118.3" r="4.5" fill="#d500ff"/>
<circle cx="728.7" cy="2120.9" r="4.5" fill="#ea00ff"/>
<circle cx="724.4" cy="2132.8" r="4.5" fill="#ff00f7"/>
<circle cx="728.3" cy="2143.6" r="4.5" fill="#ff00dd"/>
<circle cx="735.6" cy="2160.1" r="4.5" fill="#ff00bf"/>
<circle cx="714.9" cy="2166.1" r="4.5" fill="#ff0080"/>
<circle cx="731.8" cy="2172.7" r="4.5" fill="#ff0055"/>
<circle cx="720.3" cy="2170.7" r="4.5" fill="#ff0040"/>
<circle cx="705.2" cy="2176.1" r="4.5" fill="#ff0015"/>
<path d="M728.30 166.20 L708.39 174.10 L708.02 159.30 Z" fill="#979797"/>
<path d="M727.90 1208.90 L708.10 1216.30 L708.10 1201.50 Z" fill="#979797"/>
<path d="M710.50 1697.80 L687.13 1699.55 L690.52 1685.56 Z" fill="#979797"/>
<path d="M70.35 447.35 L70.35 72.5 L444.55 72.5 L444.55 447.35 L70.35 447.35" fill="none" stroke="#262626" stroke-width="4.8" stroke-linejoin="miter" stroke-linecap="butt"/>
<path d="M257.45 72.5 v6.1 M257.45 447.35 v-6.1 M70.35 259.93 h6.1 M444.55 259.93 h-6.1" stroke="#262626" stroke-width="4.9" fill="none"/>
<path d="M534.85 447.35 L534.85 72.5 L910.7 72.5 L910.7 447.35 L534.85 447.35" fill="none" stroke="#262626" stroke-width="4.8" stroke-linejoin="miter" stroke-linecap="butt"/>
<path d="M722.78 72.5 v6.1 M722.78 447.35 v-6.1 M534.85 259.93 h6.1 M910.7 259.93 h-6.1" stroke="#262626" stroke-width="4.9" fill="none"/>
<path d="M70.35 898.50 L70.35 523.65 L444.55 523.65 L444.55 898.50 L70.35 898.50" fill="none" stroke="#262626" stroke-width="4.8" stroke-linejoin="miter" stroke-linecap="butt"/>
<path d="M257.45 523.65 v6.1 M257.45 898.5 v-6.1 M70.35 711.08 h6.1 M444.55 711.08 h-6.1" stroke="#262626" stroke-width="4.9" fill="none"/>
<path d="M534.85 898.50 L534.85 523.65 L910.7 523.65 L910.7 898.50 L534.85 898.50" fill="none" stroke="#262626" stroke-width="4.8" stroke-linejoin="miter" stroke-linecap="butt"/>
<path d="M722.78 523.65 v6.1 M722.78 898.5 v-6.1 M534.85 711.08 h6.1 M910.7 711.08 h-6.1" stroke="#262626" stroke-width="4.9" fill="none"/>
<path d="M70.35 1346.75 L70.35 971.9 L444.55 971.9 L444.55 1346.75 L70.35 1346.75" fill="none" stroke="#262626" stroke-width="4.8" stroke-linejoin="miter" stroke-linecap="butt"/>
<path d="M257.45 971.9 v6.1 M257.45 1346.75 v-6.1 M70.35 1159.33 h6.1 M444.55 1159.33 h-6.1" stroke="#262626" stroke-width="4.9" fill="none"/>
<path d="M534.85 1346.75 L534.85 971.9 L910.7 971.9 L910.7 1346.75 L534.85 1346.75" fill="none" stroke="#262626" stroke-width="4.8" stroke-linejoin="miter" stroke-linecap="butt"/>
<path d="M722.78 971.9 v6.1 M722.78 1346.75 v-6.1 M534.85 1159.33 h6.1 M910.7 1159.33 h-6.1" stroke="#262626" stroke-width="4.9" fill="none"/>
<path d="M70.35 1794.05 L70.35 1419.2 L444.55 1419.2 L444.55 1794.05 L70.35 1794.05" fill="none" stroke="#262626" stroke-width="4.8" stroke-linejoin="miter" stroke-linecap="butt"/>
<path d="M257.45 1419.2 v6.1 M257.45 1794.0500000000002 v-6.1 M70.35 1606.62 h6.1 M444.55 1606.62 h-6.1" stroke="#262626" stroke-width="4.9" fill="none"/>
<path d="M534.85 1794.05 L534.85 1419.2 L910.7 1419.2 L910.7 1794.05 L534.85 1794.05" fill="none" stroke="#262626" stroke-width="4.8" stroke-linejoin="miter" stroke-linecap="butt"/>
<path d="M722.78 1419.2 v6.1 M722.78 1794.0500000000002 v-6.1 M534.85 1606.62 h6.1 M910.7 1606.62 h-6.1" stroke="#262626" stroke-width="4.9" fill="none"/>
<path d="M70.35 2243.25 L70.35 1868.4 L444.55 1868.4 L444.55 2243.25 L70.35 2243.25" fill="none" stroke="#262626" stroke-width="4.8" stroke-linejoin="miter" stroke-linecap="butt"/>
<path d="M257.45 1868.4 v6.1 M257.45 2243.25 v-6.1 M70.35 2055.83 h6.1 M444.55 2055.83 h-6.1" stroke="#262626" stroke-width="4.9" fill="none"/>
<path d="M534.85 2243.25 L534.85 1868.4 L910.7 1868.4 L910.7 2243.25 L534.85 2243.25" fill="none" stroke="#262626" stroke-width="4.8" stroke-linejoin="miter" stroke-linecap="butt"/>
<path d="M722.78 1868.4 v6.1 M722.78 2243.25 v-6.1 M534.85 2055.83 h6.1 M910.7 2055.83 h-6.1" stroke="#262626" stroke-width="4.9" fill="none"/>
<text x="295.53" y="418.30" style="font-family:&quot;Liberation Serif&quot;,serif;font-style:normal;font-weight:normal;font-size:31px">δ</text><text x="311.74" y="418.30" style="font-family:&quot;Liberation Sans&quot;,sans-serif;font-style:italic;font-weight:normal;font-size:28px">k</text><rect x="334.30" y="406.60" width="14.90" height="2.20" fill="#000"/><rect x="334.30" y="412.70" width="14.90" height="2.20" fill="#000"/><rect x="358.10" y="408.80" width="16.50" height="2.30" fill="#000"/><path d="M392.15 401.75 L392.15 404.70 L387.69 404.70 C387.38 408.15 387.28 411.70 387.59 414.24 C387.89 416.07 388.91 416.68 389.82 416.47 C390.94 416.27 391.55 414.75 391.95 413.02 L392.36 413.22 C392.15 416.27 390.83 418.60 388.60 418.60 C386.27 418.60 385.25 416.47 385.15 413.73 C385.05 410.69 385.25 407.64 385.56 404.70 L381.90 404.70 C381.39 409.16 380.78 413.22 380.07 416.07 C379.87 417.49 379.16 418.60 377.94 418.60 C376.62 418.60 376.12 417.69 376.22 416.98 C376.42 415.97 377.64 415.05 378.35 413.73 C378.96 410.69 379.16 407.64 379.47 404.70 C377.64 404.90 376.12 405.61 375.40 406.83 L375.10 406.32 C375.91 403.88 377.64 401.75 380.18 401.75 Z" fill="#000"/><text x="392.60" y="418.30" style="font-family:&quot;Liberation Sans&quot;,sans-serif;font-style:normal;font-weight:normal;font-size:34px">/</text><text x="401.62" y="418.30" style="font-family:&quot;Liberation Sans&quot;,sans-serif;font-style:normal;font-weight:normal;font-size:33.5px">2</text>
<text x="349.23" y="884.60" style="font-family:&quot;Liberation Serif&quot;,serif;font-style:normal;font-weight:normal;font-size:31px">δ</text><text x="365.74" y="884.60" style="font-family:&quot;Liberation Sans&quot;,sans-serif;font-style:italic;font-weight:normal;font-size:28px">k</text><rect x="388.10" y="872.90" width="14.90" height="2.20" fill="#000"/><rect x="388.10" y="879.00" width="14.90" height="2.20" fill="#000"/><text x="411.63" y="884.60" style="font-family:&quot;Liberation Sans&quot;,sans-serif;font-style:normal;font-weight:normal;font-size:30px">0</text>
<text x="95.43" y="1325.50" style="font-family:&quot;Liberation Serif&quot;,serif;font-style:normal;font-weight:normal;font-size:31px">δ</text><text x="111.84" y="1325.50" style="font-family:&quot;Liberation Sans&quot;,sans-serif;font-style:italic;font-weight:normal;font-size:28px">k</text><rect x="134.40" y="1313.80" width="14.50" height="2.20" fill="#000"/><rect x="134.40" y="1319.90" width="14.50" height="2.20" fill="#000"/><path d="M175.35 1308.95 L175.35 1311.90 L170.89 1311.90 C170.58 1315.35 170.48 1318.90 170.79 1321.44 C171.09 1323.27 172.11 1323.88 173.02 1323.67 C174.14 1323.47 174.75 1321.95 175.15 1320.22 L175.56 1320.42 C175.35 1323.47 174.03 1325.80 171.80 1325.80 C169.47 1325.80 168.45 1323.67 168.35 1320.93 C168.25 1317.89 168.45 1314.84 168.76 1311.90 L165.10 1311.90 C164.59 1316.36 163.98 1320.42 163.27 1323.27 C163.07 1324.69 162.36 1325.80 161.14 1325.80 C159.82 1325.80 159.32 1324.89 159.42 1324.18 C159.62 1323.17 160.84 1322.25 161.55 1320.93 C162.16 1317.89 162.36 1314.84 162.67 1311.90 C160.84 1312.10 159.32 1312.81 158.60 1314.03 L158.30 1313.52 C159.11 1311.08 160.84 1308.95 163.38 1308.95 Z" fill="#000"/><text x="175.40" y="1325.50" style="font-family:&quot;Liberation Sans&quot;,sans-serif;font-style:normal;font-weight:normal;font-size:34px">/</text><text x="185.23" y="1325.50" style="font-family:&quot;Liberation Sans&quot;,sans-serif;font-style:normal;font-weight:normal;font-size:33.5px">4</text>
<text x="103.73" y="1765.00" style="font-family:&quot;Liberation Serif&quot;,serif;font-style:normal;font-weight:normal;font-size:31px">δ</text><text x="120.14" y="1765.00" style="font-family:&quot;Liberation Sans&quot;,sans-serif;font-style:italic;font-weight:normal;font-size:28px">k</text><rect x="142.10" y="1753.30" width="14.70" height="2.20" fill="#000"/><rect x="142.10" y="1759.40" width="14.70" height="2.20" fill="#000"/><path d="M183.65 1748.45 L183.65 1751.40 L179.19 1751.40 C178.88 1754.85 178.78 1758.40 179.09 1760.94 C179.39 1762.77 180.41 1763.38 181.32 1763.17 C182.44 1762.97 183.05 1761.45 183.45 1759.72 L183.86 1759.92 C183.65 1762.97 182.33 1765.30 180.10 1765.30 C177.77 1765.30 176.75 1763.17 176.65 1760.43 C176.55 1757.39 176.75 1754.34 177.06 1751.40 L173.40 1751.40 C172.89 1755.86 172.28 1759.92 171.57 1762.77 C171.37 1764.19 170.66 1765.30 169.44 1765.30 C168.12 1765.30 167.62 1764.39 167.72 1763.68 C167.92 1762.67 169.14 1761.75 169.85 1760.43 C170.46 1757.39 170.66 1754.34 170.97 1751.40 C169.14 1751.60 167.62 1752.31 166.90 1753.53 L166.60 1753.02 C167.41 1750.58 169.14 1748.45 171.68 1748.45 Z" fill="#000"/><text x="184.40" y="1765.00" style="font-family:&quot;Liberation Sans&quot;,sans-serif;font-style:normal;font-weight:normal;font-size:34px">/</text><text x="192.92" y="1765.00" style="font-family:&quot;Liberation Sans&quot;,sans-serif;font-style:normal;font-weight:normal;font-size:33.5px">2</text>
<text x="93.63" y="2221.20" style="font-family:&quot;Liberation Serif&quot;,serif;font-style:normal;font-weight:normal;font-size:31px">δ</text><text x="110.04" y="2221.20" style="font-family:&quot;Liberation Sans&quot;,sans-serif;font-style:italic;font-weight:normal;font-size:28px">k</text><rect x="132.00" y="2209.50" width="14.90" height="2.20" fill="#000"/><rect x="132.00" y="2215.60" width="14.90" height="2.20" fill="#000"/><path d="M173.85 2204.65 L173.85 2207.60 L169.39 2207.60 C169.08 2211.05 168.98 2214.60 169.29 2217.14 C169.59 2218.97 170.61 2219.58 171.52 2219.37 C172.64 2219.17 173.25 2217.65 173.65 2215.92 L174.06 2216.12 C173.85 2219.17 172.53 2221.50 170.30 2221.50 C167.97 2221.50 166.95 2219.37 166.85 2216.63 C166.75 2213.59 166.95 2210.54 167.26 2207.60 L163.60 2207.60 C163.09 2212.06 162.48 2216.12 161.77 2218.97 C161.57 2220.39 160.86 2221.50 159.64 2221.50 C158.32 2221.50 157.82 2220.59 157.92 2219.88 C158.12 2218.87 159.34 2217.95 160.05 2216.63 C160.66 2213.59 160.86 2210.54 161.17 2207.60 C159.34 2207.80 157.82 2208.51 157.10 2209.73 L156.80 2209.22 C157.61 2206.78 159.34 2204.65 161.88 2204.65 Z" fill="#000"/>
<text x="800.26" y="425.10" style="font-family:&quot;Liberation Sans&quot;,sans-serif;font-style:italic;font-weight:normal;font-size:33px">w</text><rect x="833.20" y="411.60" width="16.70" height="2.20" fill="#000"/><rect x="833.20" y="419.20" width="16.70" height="2.20" fill="#000"/><rect x="860.60" y="414.90" width="17.90" height="2.40" fill="#000"/><path d="M890.98 425.10 L887.98 425.10 L887.98 409.00 L882.30 409.00 L882.30 406.22 C885.20 405.99 887.35 405.10 888.17 401.90 L890.98 401.90 Z" fill="#000"/>
<text x="816.16" y="878.50" style="font-family:&quot;Liberation Sans&quot;,sans-serif;font-style:italic;font-weight:normal;font-size:33px">w</text><rect x="848.60" y="865.00" width="17.40" height="2.20" fill="#000"/><rect x="848.60" y="872.60" width="17.40" height="2.20" fill="#000"/><text x="875.77" y="878.50" style="font-family:&quot;Liberation Sans&quot;,sans-serif;font-style:normal;font-weight:normal;font-size:34px">0</text>
<text x="817.66" y="1319.50" style="font-family:&quot;Liberation Sans&quot;,sans-serif;font-style:italic;font-weight:normal;font-size:33px">w</text><rect x="850.00" y="1306.00" width="17.20" height="2.20" fill="#000"/><rect x="850.00" y="1313.60" width="17.20" height="2.20" fill="#000"/><path d="M889.58 1319.50 L886.58 1319.50 L886.58 1303.40 L880.90 1303.40 L880.90 1300.62 C883.80 1300.39 885.95 1299.50 886.77 1296.30 L889.58 1296.30 Z" fill="#000"/>
<text x="820.06" y="1774.70" style="font-family:&quot;Liberation Sans&quot;,sans-serif;font-style:italic;font-weight:normal;font-size:33px">w</text><rect x="852.70" y="1761.20" width="17.20" height="2.20" fill="#000"/><rect x="852.70" y="1768.80" width="17.20" height="2.20" fill="#000"/><path d="M891.98 1774.70 L888.98 1774.70 L888.98 1758.60 L883.30 1758.60 L883.30 1755.82 C886.20 1755.59 888.35 1754.70 889.17 1751.50 L891.98 1751.50 Z" fill="#000"/>
<text x="817.06" y="2221.60" style="font-family:&quot;Liberation Sans&quot;,sans-serif;font-style:italic;font-weight:normal;font-size:33px">w</text><rect x="849.40" y="2208.10" width="17.50" height="2.20" fill="#000"/><rect x="849.40" y="2215.70" width="17.50" height="2.20" fill="#000"/><text x="876.77" y="2221.60" style="font-family:&quot;Liberation Sans&quot;,sans-serif;font-style:normal;font-weight:normal;font-size:34px">0</text>
</svg></body></html>
